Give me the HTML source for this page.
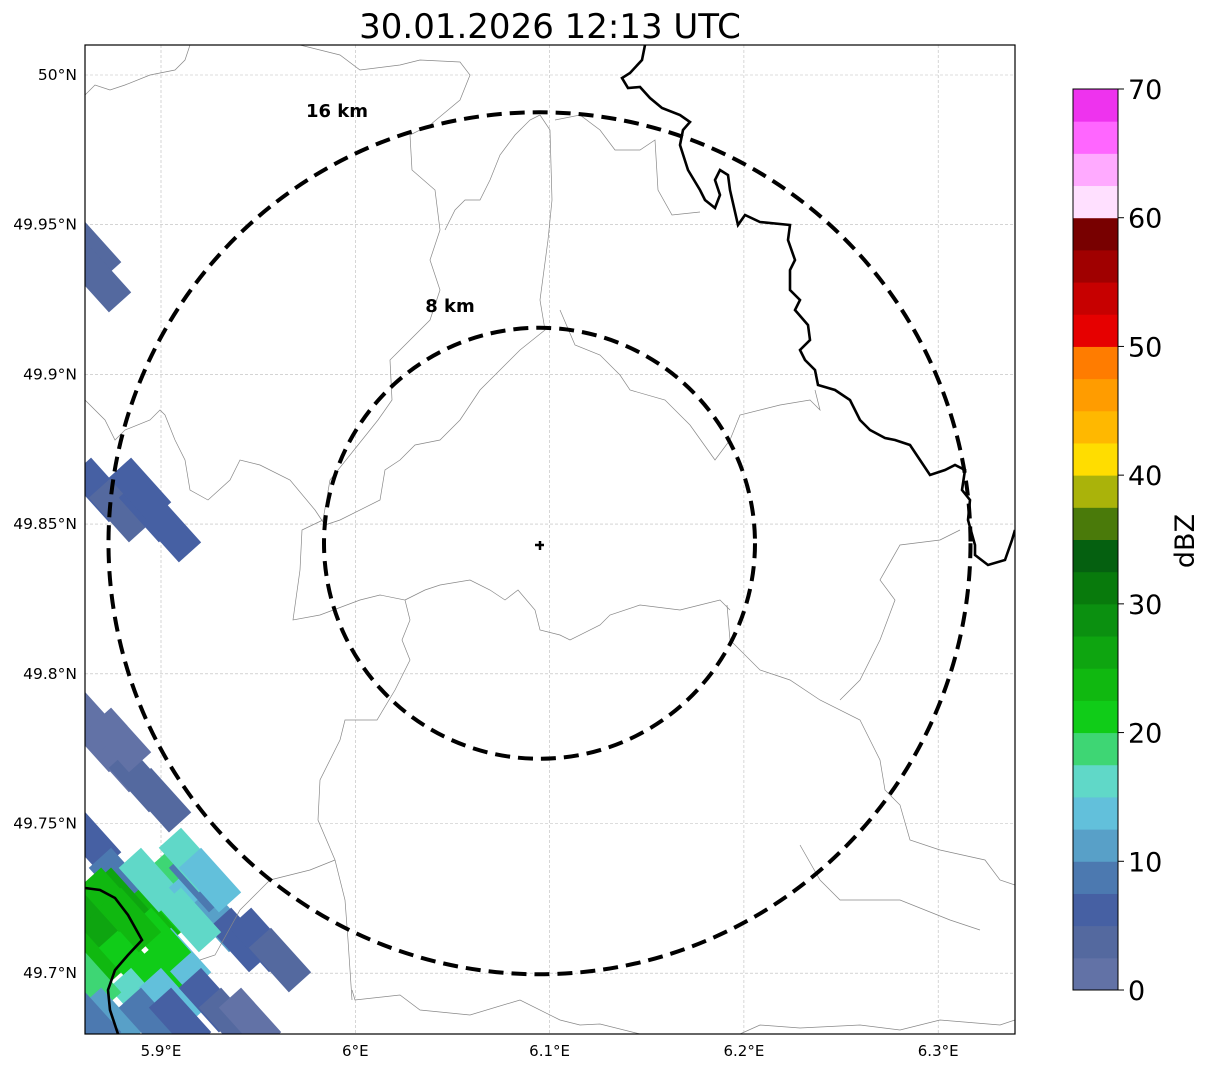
<!DOCTYPE html>
<html><head><meta charset="utf-8"><style>
html,body{margin:0;padding:0;background:#fff;}
svg{display:block;font-family:"DejaVu Sans","Liberation Sans",sans-serif;}
</style></head><body>
<svg id="fig" width="1207" height="1069" viewBox="0 0 1207 1069">
<defs><clipPath id="axclip"><rect x="85" y="45" width="930" height="989"/></clipPath></defs>
<text x="550" y="38" font-size="34" text-anchor="middle">30.01.2026 12:13 UTC</text>
<g id="grid"></g>
<g id="echoes" clip-path="url(#axclip)"></g>
<g clip-path="url(#axclip)" fill="none">
<g stroke="#888" stroke-width="0.7">
<path d="M85,95 L95,85 L110,90 L125,85 L150,75 L175,70 L185,60 L190,45"/>
<path d="M300,45 L340,55 L360,70 L400,65 L420,60 L460,62 L470,75 L460,100 L430,125 L410,135 L412,170 L435,190 L440,230 L430,260 L440,290 L430,320 L390,360 L392,400 L378,420 L330,480 L323,520 L302,530 L300,570 L293,620 L320,615 L360,600 L380,595 L405,600 L410,620 L402,640 L410,660 L395,690 L377,720 L345,720 L340,740 L320,780 L318,820 L335,860 L345,900 L348,940 L352,1000"/>
<path d="M85,400 L105,420 L115,440 L125,430 L150,420 L160,410 L165,415 L175,440 L185,460 L190,490 L208,500 L230,480 L240,460 L260,465 L290,480 L315,510 L325,525"/>
<path d="M325,525 L340,520 L380,500 L385,470 L400,460 L415,445 L440,440 L460,420 L480,390 L500,370 L520,350 L545,330 L540,300 L548,240 L552,200 L550,130 L540,115"/>
<path d="M540,115 L530,120 L515,135 L500,155 L490,180 L480,200 L465,200 L455,210 L445,230"/>
<path d="M555,120 L580,115 L600,130 L615,150 L640,150 L655,140 L658,190 L672,215 L700,212"/>
<path d="M560,310 L575,345 L600,355 L620,375 L630,390 L665,400 L690,425 L715,460 L730,440 L740,415 L780,405 L810,400 L820,410 L815,390"/>
<path d="M405,600 L425,590 L440,585 L470,580 L490,590 L505,600 L518,590 L535,610 L540,630 L560,635 L570,640 L600,625 L610,615 L640,605 L680,610 L700,605 L720,600 L730,610"/>
<path d="M727,605 L730,640 L760,670 L790,680 L820,700 L860,720 L880,760 L885,790 L900,805 L910,840 L940,850 L985,860 L1000,880 L1015,885"/>
<path d="M960,530 L940,540 L900,545 L880,580 L895,600 L880,640 L860,680 L840,700"/>
<path d="M335,860 L310,870 L270,880 L240,910 L215,955 L200,960"/>
<path d="M352,990 L355,1000 L400,995 L420,1010 L470,1015 L520,1000 L560,1020 L580,1025 L600,1024 L640,1034"/>
<path d="M740,1034 L760,1025 L800,1028 L860,1025 L900,1030 L940,1020 L1000,1025 L1015,1020"/>
<path d="M980,930 L950,920 L900,900 L840,900 L820,880 L800,845"/>
</g>
<g stroke="#000" stroke-width="2.6">
<path d="M645,45 L642,60 L630,73 L622,78 L628,88 L640,87 L650,98 L662,108 L680,115 L690,122 L683,130 L680,145 L688,170 L700,190 L705,200 L715,208 L720,195 L715,180 L720,170 L728,175 L730,190 L738,225 L745,215 L760,222 L790,225 L788,240 L795,260 L790,270 L790,290 L800,300 L795,310 L808,325 L810,340 L800,350 L805,360 L815,370 L818,385 L835,390 L850,400 L860,420 L870,430 L885,438 L895,440 L910,445 L920,460 L930,475 L945,470 L955,465 L965,470 L962,490 L970,500 L968,520 L975,545 L975,555 L988,565 L1005,560 L1012,540 L1015,530"/>
<path d="M85,888 L100,890 L115,898 L128,915 L142,940 L128,955 L115,970 L108,990 L110,1010 L118,1034"/>
</g>
</g>
<g id="rings" fill="none" stroke="#000" stroke-width="4" stroke-dasharray="15,8"></g>
<g stroke="#000" stroke-width="2.5">
<line x1="535" y1="545" x2="544" y2="545"/><line x1="540" y1="541" x2="540" y2="550"/>
</g>
<text x="337" y="117" font-size="18" font-weight="bold" text-anchor="middle">16 km</text>
<text x="450" y="312" font-size="18" font-weight="bold" text-anchor="middle">8 km</text>
<rect x="85" y="45" width="930" height="989" fill="none" stroke="#000" stroke-width="1.2"/>
<g id="xticks"></g>
<g id="yticks"></g>
<g id="cbar"></g>
<text transform="translate(1194,541) rotate(-90)" font-size="27" text-anchor="middle">dBZ</text>
</svg>
<script>
const xTickValues = [5.9, 6.0, 6.1, 6.2, 6.3];
const xTickLabels = ["5.9°E", "6°E", "6.1°E", "6.2°E", "6.3°E"];
const yTickValues = [50.0, 49.95, 49.9, 49.85, 49.8, 49.75, 49.7];
const yTickLabels = ["50°N", "49.95°N", "49.9°N", "49.85°N", "49.8°N", "49.75°N", "49.7°N"];
const cbarLevels = [0,2.5,5,7.5,10,12.5,15,17.5,20,22.5,25,27.5,30,32.5,35,37.5,40,42.5,45,47.5,50,52.5,55,57.5,60,62.5,65,67.5,70];
const cbarColors = ["#6272a6","#54699f","#4660a3","#4c79b0","#58a0c8","#62c0db","#60d8c8","#3ed674","#10cc18","#10b810","#0ea510","#0b9010","#087a0c","#056010","#4a7a0a","#aab30a","#ffdd00","#ffb800","#ff9c00","#ff7c00","#e60000","#c70000","#a00000","#780000","#ffe0ff","#ffaaff","#ff66ff","#ee33ee"];
const cbarTicks = [0,10,20,30,40,50,60,70];
const ringRadiiKm = [8, 16];
const siteLon = 6.0948, siteLat = 49.8436;
const cellLon = [5.8635,5.8686,5.8686,5.8789,5.8943,5.9046,5.8892,5.8686,5.8789,5.8892,5.8995,5.8635,5.8635,5.8789,5.8635,5.8738,5.8635,5.884,5.8943,5.9046,5.9098,5.8943,5.8789,5.8995,5.9098,5.8892,5.9046,5.9201,5.9304,5.9407,5.951,5.9612,5.9201,5.8635,5.8738,5.8635,5.8943,5.9098,5.9252,5.9355,5.9458,5.9149,5.9252,5.8738,5.8995,5.9149,5.8840,5.8789];
const cellLat = [49.9416,49.9315,49.8614,49.8547,49.8547,49.848,49.8614,49.7779,49.7712,49.7645,49.7578,49.7846,49.7445,49.7311,49.7178,49.7111,49.7044,49.7044,49.7178,49.7245,49.7311,49.7311,49.7245,49.6977,49.7044,49.691,49.691,49.7245,49.7178,49.7111,49.7111,49.7044,49.7311,49.6977,49.6844,49.6844,49.6844,49.6844,49.691,49.6844,49.6844,49.7378,49.7311,49.7245,49.7111,49.7178,49.7178,49.7779];
const cellDbz = [3,3,5,4,6,6,6,2,2,3,3,2,5,8,27,25,24,22,23,20,18,17,26,20,14,16,13,14,12,7,5,4,8,18,12,8,9,6,5,3,2,17,13,24,21,16,23,2];

const NS = "http://www.w3.org/2000/svg";
function xs(lon){ return 161 + (lon - 5.9) * 1943; }
function ys(lat){ return 75 + (50 - lat) * 2994; }
function mk(tag, attrs, parent){ const e = document.createElementNS(NS, tag); for (const k in attrs) e.setAttribute(k, attrs[k]); parent.appendChild(e); return e; }
function colorFor(v){ for (let i = 0; i < cbarColors.length; i++) if (v < cbarLevels[i+1]) return cbarColors[i]; return cbarColors[cbarColors.length-1]; }

const grid = document.getElementById('grid');
const xt = document.getElementById('xticks');
xTickValues.forEach((v, i) => {
  const x = xs(v);
  const gl = mk('line', {x1:x, x2:x, y1:45, y2:1034, stroke:'#bbb', 'stroke-width':0.6, 'stroke-dasharray':'3,2'}, grid);
  
  
  const t = mk('text', {x:x, y:1056, 'font-size':15, 'text-anchor':'middle'}, xt);
  t.textContent = xTickLabels[i];
  
  
});
const yt = document.getElementById('yticks');
yTickValues.forEach((v, i) => {
  const y = ys(v);
  const gl = mk('line', {x1:85, x2:1015, y1:y, y2:y, stroke:'#bbb', 'stroke-width':0.6, 'stroke-dasharray':'3,2'}, grid);
  
  
  const t = mk('text', {x:77, y:y+5, 'font-size':15.5, 'text-anchor':'end'}, yt);
  t.textContent = yTickLabels[i];
  
  
});

const eg = document.getElementById('echoes');
cellLon.forEach((lon, i) => {
  const cx = xs(lon), cy = ys(cellLat[i]);
  const r = mk('rect', {x:cx-30, y:cy-15, width:60, height:30, fill:colorFor(cellDbz[i]), transform:`rotate(48 ${cx} ${cy})`}, eg);
  
  
});

const rings = document.getElementById('rings');
const pxPerKm = 431 / 16;
ringRadiiKm.forEach(km => {
  const c = mk('circle', {cx:xs(siteLon), cy:ys(siteLat), r:km*pxPerKm}, rings);
  
  
});

const cb = document.getElementById('cbar');
const cbTop = 89, cbBot = 990, cbX = 1073, cbW = 45;
function cy(v){ return cbBot - (v - cbarLevels[0]) / (cbarLevels[cbarLevels.length-1] - cbarLevels[0]) * (cbBot - cbTop); }
cbarColors.forEach((col, i) => {
  const y1 = cy(cbarLevels[i+1]), y0 = cy(cbarLevels[i]);
  const r = mk('rect', {x:cbX, y:y1, width:cbW, height:y0-y1+0.5, fill:col}, cb);
  
  
});
mk('rect', {x:cbX, y:cbTop, width:cbW, height:cbBot-cbTop, fill:'none', stroke:'#000', 'stroke-width':1}, cb);
cbarTicks.forEach(v => {
  const y = cy(v);
  mk('line', {x1:cbX+cbW, x2:cbX+cbW+6, y1:y, y2:y, stroke:'#000', 'stroke-width':1}, cb);
  const t = mk('text', {x:cbX+cbW+10, y:y+10, 'font-size':27}, cb);
  t.textContent = v;
  
  
});
</script>
</body></html>
